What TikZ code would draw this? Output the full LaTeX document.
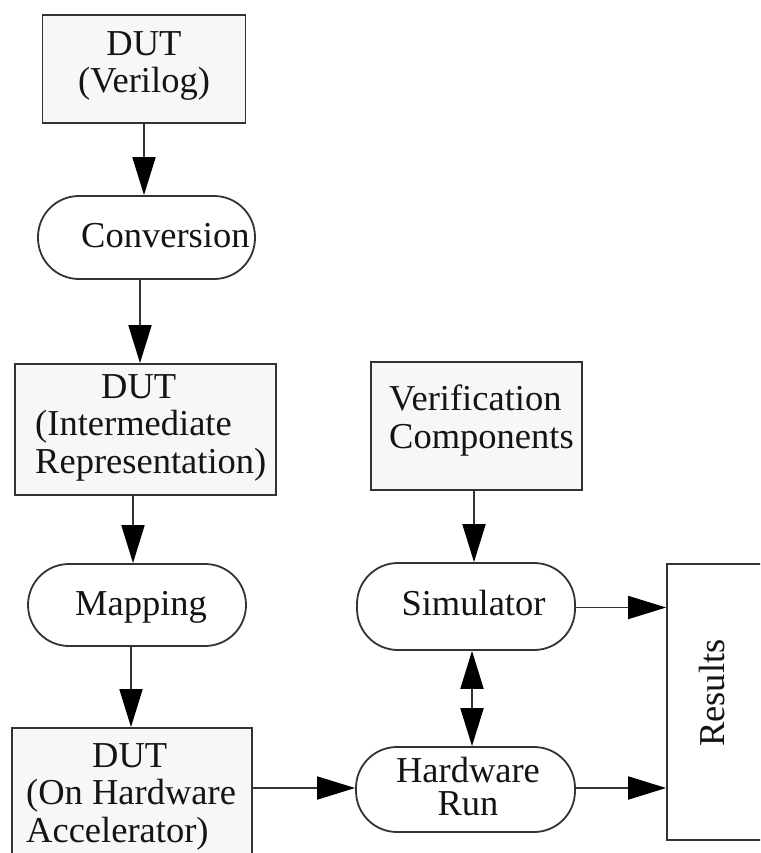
\documentclass[tikz,border=0pt]{standalone}
\usepackage{fontspec}
\setmainfont{Liberation Serif}
\usetikzlibrary{arrows.meta}
\definecolor{boxfill}{HTML}{F7F7F7}
\definecolor{edge}{HTML}{333333}
\definecolor{ink}{HTML}{141414}
\tikzset{
  gbox/.style={draw=edge, line width=1.8pt, fill=boxfill, rectangle, inner sep=0pt},
  wbox/.style={draw=edge, line width=1.8pt, fill=white, rectangle, inner sep=0pt},
  pill/.style={draw=edge, line width=1.8pt, fill=white, rectangle, rounded corners=41pt, inner sep=0pt},
  txt/.style={text=ink, inner sep=0pt, font=\fontsize{36.5}{37.5}\selectfont},
  tip/.tip={Triangle[length=38pt,width=23pt,fill=black,color=black]},
  conn/.style={draw=edge, line width=1.8pt, -tip},
  biconn/.style={draw=edge, line width=1.8pt, tip-tip}
}
\begin{document}
\begin{tikzpicture}[x=1pt,y=-1pt]
\useasboundingbox (0,0) rectangle (760,853);
\clip (0,0) rectangle (760,853);
\fill[white] (0,0) rectangle (760,853);
% shapes
\node[gbox, minimum width=203pt, minimum height=108pt] (verilog) at (144,69) {};
\node[pill, minimum width=217pt, minimum height=83pt] (conv) at (146.5,237.5) {};
\node[gbox, minimum width=261pt, minimum height=131pt] (ir) at (145.5,429.5) {};
\node[pill, minimum width=218pt, minimum height=82pt] (map) at (137,605) {};
\node[gbox, minimum width=240pt, minimum height=150pt] (hw) at (132,803) {};
\node[gbox, minimum width=211pt, minimum height=128pt] (vc) at (476.5,426) {};
\node[pill, minimum width=218pt, minimum height=87pt] (sim) at (466,606.5) {};
\node[pill, minimum width=219pt, minimum height=85pt] (run) at (465.5,789.5) {};
\node[wbox, minimum width=160pt, minimum height=276pt] (res) at (747,702) {};
% texts (anchor=base is the baseline of the last line)
\node[txt, align=center, anchor=base] (t1) at (144,93) {DUT\\(Verilog)};
\node[txt, anchor=base west] (t2) at (81,247) {Conversion};
\node[txt, align=left, anchor=base west] (t3) at (35,473) {\hspace*{66pt}DUT\\(Intermediate\\Representation)};
\node[txt, anchor=base] (t4) at (141,615) {Mapping};
\node[txt, align=left, anchor=base west] (t5) at (26,842) {\hspace*{66pt}DUT\\(On Hardware\\Accelerator)};
\node[txt, align=left, anchor=base west] (t6) at (389,448) {Verification\\Components};
\node[txt, anchor=base] (t7) at (473.5,615) {Simulator};
\node[txt, align=center, anchor=base, font=\fontsize{36.5}{33}\selectfont] (t8) at (468,815) {Hardware\\Run};
\node[txt, rotate=90] (t9) at (712,693) {Results};
% connectors
\draw[conn] (verilog.south) -- (verilog.south |- conv.north);
\draw[conn] ([xshift=-6.5pt]conv.south) -- ([xshift=-6.5pt]conv.south |- ir.north);
\draw[conn] ([xshift=-12.5pt]ir.south) -- ([xshift=-12.5pt]ir.south |- map.north);
\draw[conn] ([xshift=-6pt]map.south) -- ([xshift=-6pt]map.south |- hw.north);
\draw[conn] ([xshift=-2.5pt]vc.south) -- ([xshift=-2.5pt]vc.south |- sim.north);
\draw[biconn] ([xshift=6pt]sim.south) -- ([xshift=6pt]sim.south |- run.north);
\draw[conn] ([yshift=-1pt]sim.east) -- ([yshift=-1pt]sim.east -| res.west);
\draw[conn] ([yshift=1.5pt]run.east) -- ([yshift=1.5pt]run.east -| res.west);
\draw[conn] ([yshift=1.5pt]hw.east |- run.west) -- ([yshift=1.5pt]run.west);
\end{tikzpicture}
\end{document}
